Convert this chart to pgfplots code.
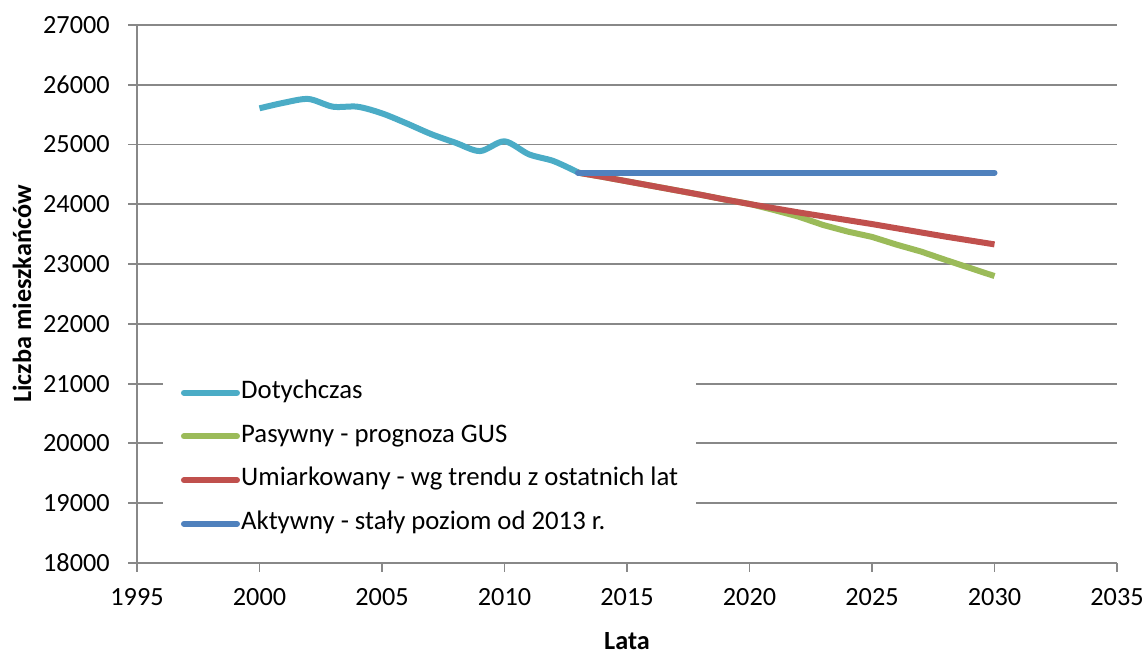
\documentclass[border=0pt]{standalone}
\usepackage{fontspec}
\setmainfont{Carlito}
\usepackage{pgfplots}
\pgfplotsset{compat=1.18}
\definecolor{cteal}{HTML}{4BACC6}
\definecolor{cgreen}{HTML}{9BBB59}
\definecolor{cred}{HTML}{C0504D}
\definecolor{cblue}{HTML}{4F81BD}
\definecolor{cgrid}{HTML}{888888}

\begin{document}
\begin{tikzpicture}
\useasboundingbox (-54.8pt,-36pt) rectangle (403.2pt,225.2pt);
\begin{axis}[
  scale only axis, width=392pt, height=215.2pt,
  xmin=1995, xmax=2035, ymin=18000, ymax=27000,
  xtick={1995,2000,...,2035}, ytick={18000,19000,...,27000},
  scaled ticks=false,
  axis x line*=bottom, axis y line*=left,
  axis line style={cgrid, line width=0.75pt, -},
  ymajorgrids, grid style={cgrid, line width=0.75pt},
  tick align=outside, major tick length=3.6pt,
  tick style={cgrid, line width=0.75pt},
  /pgf/number format/assume math mode=true,
  /pgf/number format/1000 sep={},
  tick label style={font=\fontsize{10.5}{12}\selectfont},
  xticklabel style={yshift=-3pt},
  yticklabel style={xshift=-3.8pt},
  xlabel={Lata}, ylabel={Liczba mieszkańców},
  label style={font=\fontsize{10.5}{12}\selectfont\bfseries},
  xlabel style={at={(axis description cs:0.5,-0.145)}, anchor=center},
  ylabel style={at={(axis description cs:-0.1173,0.5)}, anchor=center},
  legend cell align=left,
  legend image code/.code={\draw[#1, line cap=round] (0pt,0pt) -- (21.2pt,0pt);},
  legend style={at={(rel axis cs:0.0265,0.368)}, anchor=north west, draw=none, fill=white,
    inner xsep=7pt, inner ysep=6.6pt, column sep=0.5pt, row sep=9pt,
    font=\fontsize{10.7}{12}\selectfont,
    nodes={inner sep=0pt, text height=6.5pt, text depth=2pt}},
]
\addplot[cteal, line width=2.4pt, smooth, tension=0.5] coordinates {
(2000,25606) (2001,25700) (2002,25762) (2003,25633) (2004,25633) (2005,25522)
(2006,25355) (2007,25176) (2008,25030) (2009,24891) (2010,25054) (2011,24836)
(2012,24724) (2013,24535)};
\addlegendentry{Dotychczas}
\addplot[cgreen, line width=2.4pt, line join=round] coordinates {
(2013,24530) (2014,24460) (2015,24385) (2016,24310) (2017,24235) (2018,24160)
(2019,24080) (2020,24007) (2021,23905) (2022,23795) (2023,23655) (2024,23545)
(2025,23455) (2026,23326) (2027,23210) (2028,23070) (2029,22935) (2030,22800)};
\addlegendentry{Pasywny - prognoza GUS}
\addplot[cred, line width=2.4pt, line join=round] coordinates {
(2013,24530) (2014,24460) (2015,24385) (2016,24310) (2017,24235) (2018,24160)
(2019,24080) (2020,24005) (2021,23935) (2022,23865) (2023,23800) (2024,23735)
(2025,23670) (2026,23600) (2027,23530) (2028,23460) (2029,23395) (2030,23330)};
\addlegendentry{Umiarkowany - wg trendu z ostatnich lat}
\addplot[cblue, line width=2.4pt, line cap=round] coordinates {
(2013,24530) (2030,24530)};
\addlegendentry{Aktywny - stały poziom od 2013 r.}
\end{axis}
\end{tikzpicture}
\end{document}
